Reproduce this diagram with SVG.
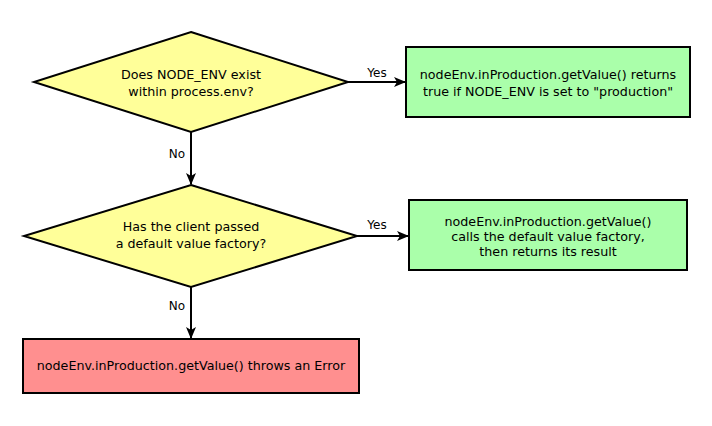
<svg xmlns="http://www.w3.org/2000/svg" width="712" height="426" viewBox="0 0 712 426">
<defs>
<marker id="arr" markerWidth="12" markerHeight="10" refX="11" refY="5" orient="auto" markerUnits="userSpaceOnUse">
<path d="M0,0 L12,5 L0,10 L3,5 Z" fill="#000"/>
</marker>
<style>
text{font-family:"DejaVu Sans",sans-serif;font-size:12.7px;fill:#000;text-anchor:middle}
.lbl{font-size:12px}
.dec{fill:#ffff99;stroke:#000;stroke-width:2}
.ok{fill:#aaffaa;stroke:#000;stroke-width:2}
.err{fill:#ff8f8f;stroke:#000;stroke-width:2}
.edge{stroke:#000;stroke-width:2;fill:none}
</style>
</defs>
<rect width="712" height="426" fill="#fff"/>
<g id="connectors">
<line class="edge" x1="348" y1="82" x2="405" y2="82" marker-end="url(#arr)"/>
<text class="lbl" x="377" y="77">Yes</text>
<line class="edge" x1="191" y1="131" x2="191" y2="184" marker-end="url(#arr)"/>
<text class="lbl" x="177" y="158">No</text>
<line class="edge" x1="357" y1="236" x2="408" y2="236" marker-end="url(#arr)"/>
<text class="lbl" x="377" y="229">Yes</text>
<line class="edge" x1="191" y1="287" x2="191" y2="338" marker-end="url(#arr)"/>
<text class="lbl" x="177" y="310">No</text>
</g>
<g id="q1">
<polygon class="dec" points="191,32 348,82 191,132 34,82"/>
<text x="191" y="79">Does NODE_ENV exist</text>
<text x="191" y="96">within process.env?</text>
</g>
<g id="r1">
<rect class="ok" x="406" y="47" width="284" height="70"/>
<text x="548" y="79">nodeEnv.inProduction.getValue() returns</text>
<text x="548" y="96">true if NODE_ENV is set to "production"</text>
</g>
<g id="q2">
<polygon class="dec" points="191,185 357,236 191,287 24,236"/>
<text x="191" y="231">Has the client passed</text>
<text x="191" y="248">a default value factory?</text>
</g>
<g id="r2">
<rect class="ok" x="409" y="200" width="278" height="70"/>
<text x="548" y="226">nodeEnv.inProduction.getValue()</text>
<text x="548" y="241">calls the default value factory,</text>
<text x="548" y="256">then returns its result</text>
</g>
<g id="r3">
<rect class="err" x="23" y="339" width="336" height="54"/>
<text x="191" y="370">nodeEnv.inProduction.getValue() throws an Error</text>
</g>
</svg>
